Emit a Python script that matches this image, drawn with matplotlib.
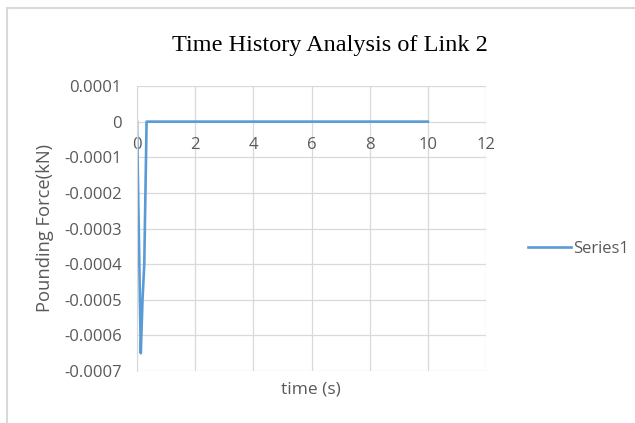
import matplotlib
matplotlib.use("Agg")
import matplotlib.pyplot as plt
from matplotlib.patches import Rectangle

# data
time_s = [0, 0.13, 0.19, 0.25, 0.33, 1, 2, 4, 6, 8, 10]
force_kn = [0, -0.00065, -0.0005, -0.0004, 0, 0, 0, 0, 0, 0, 0]
x_ticks = [0, 2, 4, 6, 8, 10, 12]
y_ticks = [0.0001, 0, -0.0001, -0.0002, -0.0003, -0.0004, -0.0005, -0.0006, -0.0007]
y_labels = ["0.0001", "0", "-0.0001", "-0.0002", "-0.0003", "-0.0004", "-0.0005", "-0.0006", "-0.0007"]

grey = "#595959"
blue = "#5B9BD5"
sans = ["Open Sans", "DejaVu Sans"]

fig = plt.figure(figsize=(6.35, 4.23), dpi=100)
fig.patches.append(Rectangle((7/635, -0.1), 1.2, 1 - 8/423 + 0.1, transform=fig.transFigure,
                             fill=False, edgecolor="#d9d9d9", linewidth=1.5))
ax = fig.add_axes([137/635, 1 - 371/423, (486 - 137)/635, (371 - 86)/423])

ax.plot(time_s, force_kn, color=blue, linewidth=1.9, label="Series1", solid_joinstyle="round")

ax.set_xlim(0, 12)
ax.set_ylim(-0.0007, 0.0001)
ax.set_xticks(x_ticks)
ax.set_yticks(y_ticks)
ax.set_yticklabels(y_labels)
ax.grid(True, color="#d9d9d9", linewidth=0.9)
ax.set_axisbelow(True)

for s in ["top", "right"]:
    ax.spines[s].set_visible(False)
ax.spines["bottom"].set_position(("data", 0))
ax.spines["bottom"].set_visible(False)
ax.spines["left"].set_color("#d9d9d9")

ax.tick_params(axis="both", length=0, labelsize=12, labelcolor=grey)
ax.tick_params(axis="x", pad=11)
ax.tick_params(axis="y", pad=11)
for lbl in ax.get_xticklabels() + ax.get_yticklabels():
    lbl.set_family(sans)

fig.text(330/635, 1 - 45/423, "Time History Analysis of Link 2", ha="center", va="center",
         family="Liberation Serif", fontsize=17.5)
fig.text(311/635, 1 - 389/423, "time (s)", ha="center", va="center",
         color=grey, fontsize=12.5, family=sans)
fig.text(45/635, 1 - 228/423, "Pounding Force(kN)", ha="center", va="center",
         rotation=90, color=grey, fontsize=13.2, family=sans)

leg = fig.legend(loc="center left", bbox_to_anchor=(513/635, 1 - 249/423), frameon=False,
                 handlelength=2.6, handletextpad=0.1, prop={"family": sans, "size": 12})
for t in leg.get_texts():
    t.set_color(grey)

fig.savefig("out.png", dpi=100)
